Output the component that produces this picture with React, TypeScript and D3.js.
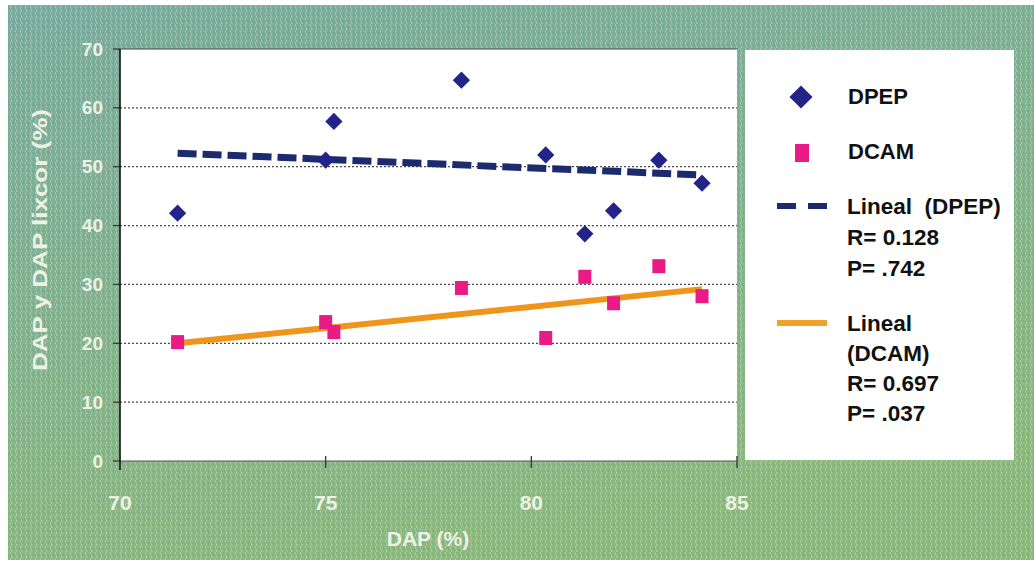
import React from 'react';
import * as d3 from 'd3';

// DAP (%) values shared by both series
const dap = [71.4, 75.0, 75.2, 78.3, 80.35, 81.3, 82.0, 83.1, 84.15];
const dpep = [42.1, 51.1, 57.7, 64.7, 52.0, 38.6, 42.5, 51.1, 47.2];
const dcam = [20.2, 23.6, 21.9, 29.4, 20.9, 31.3, 26.8, 33.1, 28.0];

// trend line end points
const trendX = [71.4, 84.15];
const trendDpep = [52.3, 48.6];
const trendDcam = [20.0, 29.2];

const xTicks = [70, 75, 80, 85];
const yTicks = [0, 10, 20, 30, 40, 50, 60, 70];

const legendDpep = ['Lineal\u00a0\u00a0(DPEP)', 'R= 0.128', 'P= .742'];
const legendDcam = ['Lineal', '(DCAM)', 'R= 0.697', 'P= .037'];

export default function App() {
  // SET DIMENSIONS
  const w = 1034,
    h = 562;
  const plot = { left: 120, right: 737, top: 49, bottom: 461 };

  // SET SCALING
  const x = d3.scaleLinear().domain([70, 85]).range([plot.left, plot.right]);
  const y = d3.scaleLinear().domain([0, 70]).range([plot.bottom, plot.top]);

  const line = d3
    .line<number>()
    .x((d, i) => x(trendX[i]))
    .y((d) => y(d));

  const font = "'Liberation Sans', Arial, sans-serif";
  const light = '#eef2e4';
  const diamond = d3.symbol().type(d3.symbolDiamond2).size(190);
  const legendDiamond = d3.symbol().type(d3.symbolDiamond2).size(340);

  return (
    <svg
      width={w}
      height={h}
      style={{ position: 'absolute', left: 0, top: 0, display: 'block' }}
      fontFamily={font}
    >
      <defs>
        <linearGradient id="bg" x1="0" y1="0" x2="0.35" y2="1">
          <stop offset="0" stopColor="#7aab9f" />
          <stop offset="0.5" stopColor="#82b28f" />
          <stop offset="1" stopColor="#8bb97c" />
        </linearGradient>
        <pattern id="weave" width="5" height="6" patternUnits="userSpaceOnUse">
          <path d="M0 0 L2 6" stroke="#e4efd8" strokeWidth="1" opacity="0.4" />
          <path d="M0 3 L5 3" stroke="#5a8a7c" strokeWidth="0.8" opacity="0.3" />
        </pattern>
      </defs>

      <rect width={w} height={h} fill="#fff" />
      <rect x={8} y={5} width={w - 8} height={555} fill="url(#bg)" />
      <rect x={8} y={5} width={w - 8} height={555} fill="url(#weave)" />

      {/* PLOT AREA */}
      <rect
        x={plot.left}
        y={plot.top}
        width={plot.right - plot.left}
        height={plot.bottom - plot.top}
        fill="#fff"
      />

      {/* GRID */}
      {yTicks.map((t) => (
        <g key={`gy${t}`}>
          {t > 0 && t < 70 && (
            <line
              x1={plot.left}
              x2={plot.right}
              y1={y(t)}
              y2={y(t)}
              stroke="#4a4a4a"
              strokeWidth={1.2}
              strokeDasharray="2 2"
            />
          )}
          <line x1={plot.left - 7} x2={plot.left} y1={y(t)} y2={y(t)} stroke="#333" strokeWidth={1.2} />
          <text
            x={103}
            y={y(t)}
            textAnchor="end"
            dominantBaseline="central"
            fontSize={19}
            fontWeight="bold"
            fill={light}
          >
            {t}
          </text>
        </g>
      ))}
      <line x1={plot.left} x2={plot.right} y1={plot.top} y2={plot.top} stroke="#444" strokeWidth={1.2} />
      <line x1={plot.left} x2={plot.right} y1={plot.bottom} y2={plot.bottom} stroke="#555" strokeWidth={1.2} />
      <line x1={plot.left} x2={plot.left} y1={plot.top} y2={plot.bottom + 9} stroke="#111" strokeWidth={1.6} />

      {/* X AXIS */}
      {xTicks.map((t) => (
        <g key={`gx${t}`}>
          <line x1={x(t)} x2={x(t)} y1={plot.bottom - 5} y2={plot.bottom + 7} stroke="#333" strokeWidth={1.3} />
          <text
            x={x(t)}
            y={502}
            textAnchor="middle"
            dominantBaseline="central"
            fontSize={21}
            fontWeight="bold"
            fill={light}
          >
            {t}
          </text>
        </g>
      ))}
      <text x={428} y={538} textAnchor="middle" dominantBaseline="central" fontSize={21} fontWeight="bold" fill={light}>
        DAP (%)
      </text>
      <text
        transform="translate(40,240) rotate(-90)"
        textAnchor="middle"
        dominantBaseline="central"
        fontSize={20}
        fontWeight="bold"
        fill={light}
        textLength={262}
        lengthAdjust="spacingAndGlyphs"
      >
        DAP y DAP lixcor (%)
      </text>

      {/* TREND LINES */}
      <path d={line(trendDpep) || ''} fill="none" stroke="#1c2a6e" strokeWidth={7} strokeDasharray="19 6" />
      <path d={line(trendDcam) || ''} fill="none" stroke="#f0951c" strokeWidth={6} />

      {/* POINTS */}
      {dcam.map((v, i) => (
        <rect key={`c${i}`} x={x(dap[i]) - 6.5} y={y(v) - 7} width={13} height={14} fill="#ea1a86" />
      ))}
      {dpep.map((v, i) => (
        <path key={`p${i}`} d={diamond() || ''} transform={`translate(${x(dap[i])},${y(v)})`} fill="#23248a" />
      ))}

      {/* LEGEND */}
      <rect x={745} y={50} width={269} height={410} fill="#fff" />
      <path d={legendDiamond() || ''} transform="translate(801,97)" fill="#23248a" />
      <text x={848} y={96} dominantBaseline="central" fontSize={22} fontWeight="bold" fill="#111">
        DPEP
      </text>
      <rect x={795} y={144} width={14} height={18} fill="#ea1a86" />
      <text x={848} y={151} dominantBaseline="central" fontSize={22} fontWeight="bold" fill="#111">
        DCAM
      </text>
      <line x1={777} x2={827} y1={206} y2={206} stroke="#1c2a6e" strokeWidth={6} strokeDasharray="19 12" />
      {legendDpep.map((s, i) => (
        <text key={s} x={847} y={206 + i * 31} dominantBaseline="central" fontSize={22.5} fontWeight="bold" fill="#111">
          {s}
        </text>
      ))}
      <line x1={777} x2={827} y1={323} y2={323} stroke="#f0a22a" strokeWidth={6} />
      {legendDcam.map((s, i) => (
        <text key={s} x={847} y={323 + i * 30} dominantBaseline="central" fontSize={22.5} fontWeight="bold" fill="#111">
          {s}
        </text>
      ))}
    </svg>
  );
}
